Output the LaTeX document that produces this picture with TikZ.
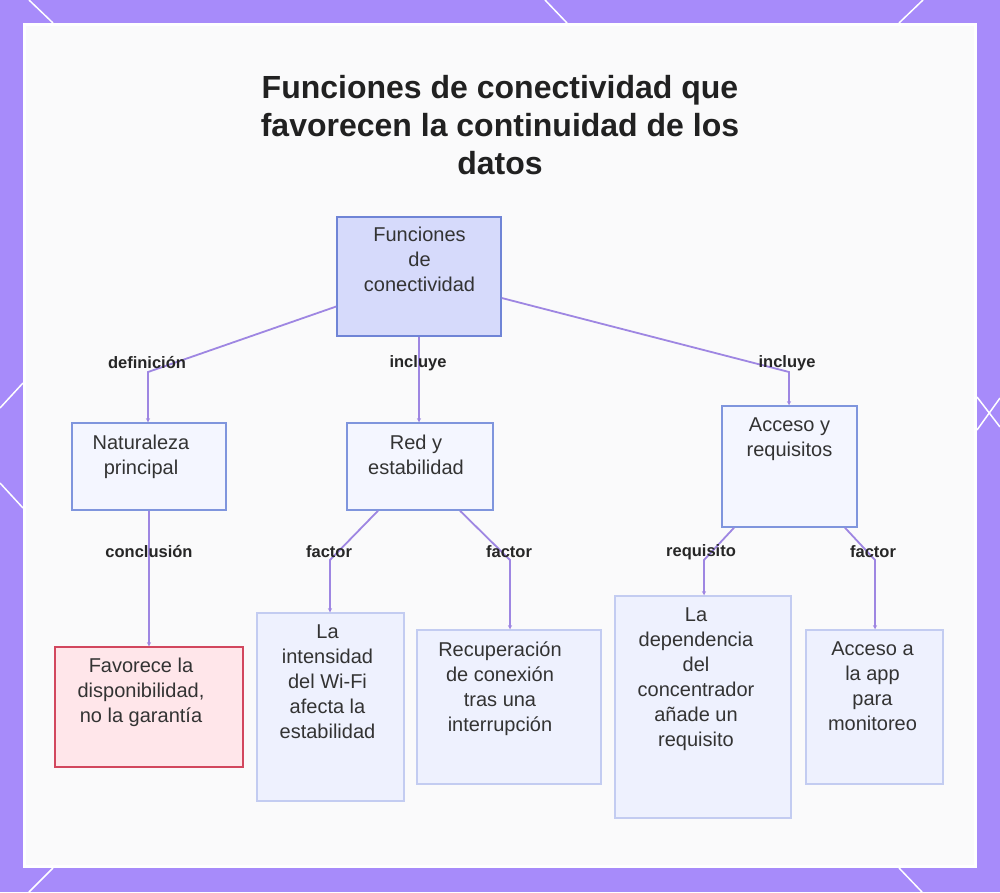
\documentclass[tikz,border=0pt]{standalone}
\usepackage{fontspec}
\setmainfont{Liberation Sans}
\usetikzlibrary{arrows.meta}
\definecolor{frame}{HTML}{A78BFA}
\definecolor{panel}{HTML}{FAFAFB}
\definecolor{linkc}{HTML}{9E86E2}
\definecolor{rootfill}{HTML}{D6DAFB}
\definecolor{rootdraw}{HTML}{6F84D6}
\definecolor{midfill}{HTML}{F4F6FF}
\definecolor{middraw}{HTML}{7F95DD}
\definecolor{leaffill}{HTML}{EEF1FE}
\definecolor{leafdraw}{HTML}{C3CCF1}
\definecolor{notefill}{HTML}{FFE6EA}
\definecolor{notedraw}{HTML}{D2475E}
\definecolor{ink}{HTML}{333333}
\begin{document}
\begin{tikzpicture}[x=1pt, y=-1pt,
    rootbox/.style={rectangle, draw=rootdraw, fill=rootfill, line width=1.5pt, inner sep=0pt},
    midbox/.style={rectangle, draw=middraw, fill=midfill, line width=1.5pt, inner sep=0pt},
    leafbox/.style={rectangle, draw=leafdraw, fill=leaffill, line width=1.5pt, inner sep=0pt},
    notebox/.style={rectangle, draw=notedraw, fill=notefill, line width=1.5pt, inner sep=0pt},
    boxtext/.style={anchor=north, align=center, inner sep=0pt, text=ink, font=\fontsize{20}{25}\selectfont, execute at begin node=\strut},
    edgelbl/.style={font=\bfseries\fontsize{16.5}{20}\selectfont, text=black!85, inner sep=0pt},
    link/.style={draw=linkc, line width=1.8pt, -{Stealth[length=4pt,width=4pt]}},
    deco/.style={draw=white, line width=1.5pt}
    ]
    % frame and panel
    \fill[frame] (0,0) rectangle (1000,892);
    \useasboundingbox (0,0) rectangle (1000,892);
    \draw[deco] (29,0) -- (53,23);
    \draw[deco] (545,0) -- (567,23);
    \draw[deco] (923,0) -- (899,23);
    \draw[deco] (0,408) -- (23,383);
    \draw[deco] (0,483) -- (23,508);
    \draw[deco] (977,430) -- (1000,398);
    \draw[deco] (977,397) -- (1000,427);
    \draw[deco] (53,868) -- (29,892);
    \draw[deco] (899,868) -- (922,892);
    \fill[panel] (23,23) rectangle (977,868);
    \draw[white, line width=3pt] (24.5,24.5) rectangle (975.5,866.5);

    % title
    \node[anchor=north, align=center, inner sep=0pt, text=black!87, font=\bfseries\fontsize{32}{38}\selectfont] (title) at (500,75)
        {Funciones de conectividad que\\favorecen la continuidad de los\\datos};

    % boxes
    \node[rootbox, minimum width=164pt, minimum height=119pt] (root) at (419,276.5) {};
    \node[midbox, minimum width=154pt, minimum height=87pt] (nat) at (149,466.5) {};
    \node[midbox, minimum width=146pt, minimum height=87pt] (red) at (420,466.5) {};
    \node[midbox, minimum width=135pt, minimum height=121pt] (acc) at (789.5,466.5) {};
    \node[notebox, minimum width=188pt, minimum height=120pt] (fav) at (149,707) {};
    \node[leafbox, minimum width=147pt, minimum height=188pt] (int) at (330.5,707) {};
    \node[leafbox, minimum width=184pt, minimum height=154pt] (rec) at (509,707) {};
    \node[leafbox, minimum width=176pt, minimum height=222pt] (dep) at (703,707) {};
    \node[leafbox, minimum width=137pt, minimum height=154pt] (app) at (874.5,707) {};

    % box texts
    \node[boxtext] (rootT) at ([xshift=0.5pt, yshift=-11pt]root.north) {Funciones\\de\\conectividad};
    \node[boxtext] (natT) at ([xshift=-8pt, yshift=-12.5pt]nat.north) {Naturaleza\\principal};
    \node[boxtext] (redT) at ([xshift=-4pt, yshift=-12.5pt]red.north) {Red y\\estabilidad};
    \node[boxtext] (accT) at ([yshift=-12pt]acc.north) {Acceso y\\requisitos};
    \node[boxtext] (favT) at ([xshift=-8pt, yshift=-12pt]fav.north) {Favorece la\\disponibilidad,\\no la garantía};
    \node[boxtext] (intT) at ([xshift=-3pt, yshift=-12pt]int.north) {La\\intensidad\\del Wi-Fi\\afecta la\\estabilidad};
    \node[boxtext] (recT) at ([xshift=-9pt, yshift=-12pt]rec.north) {Recuperación\\de conexión\\tras una\\interrupción};
    \node[boxtext] (depT) at ([xshift=-7pt, yshift=-12pt]dep.north) {La\\dependencia\\del\\concentrador\\añade un\\requisito};
    \node[boxtext] (appT) at ([xshift=-2pt, yshift=-12pt]app.north) {Acceso a\\la app\\para\\monitoreo};

    % bends
    \coordinate (k1) at (148,372);
    \coordinate (k2) at (789,372);
    \coordinate (k3) at (330,560);
    \coordinate (k4) at (510,560);
    \coordinate (k5) at (704,560);
    \coordinate (k6) at (875,560);

    % connectors
    \draw[link] ([yshift=-30pt]root.west) -- (k1) -- (k1 |- nat.north);
    \draw[link] (root.south) -- (root.south |- red.north);
    \draw[link] ([yshift=-21.5pt]root.east) -- (k2) -- (k2 |- acc.north);
    \draw[link] (nat.south) -- (nat.south |- fav.north);
    \draw[link] ([xshift=-42pt]red.south) -- (k3) -- (k3 |- int.north);
    \draw[link] ([xshift=40pt]red.south) -- (k4) -- (k4 |- rec.north);
    \draw[link] ([xshift=-55.5pt]acc.south) -- (k5) -- (k5 |- dep.north);
    \draw[link] ([xshift=55.5pt]acc.south) -- (k6) -- (k6 |- app.north);

    % connector labels
    \node[edgelbl] (l1) at (147,363) {definición};
    \node[edgelbl] (l2) at (418,363) {incluye};
    \node[edgelbl] (l3) at (787,363) {incluye};
    \node[edgelbl] (l4) at (149,552) {conclusión};
    \node[edgelbl] (l5) at (329,552) {factor};
    \node[edgelbl] (l6) at (509,552) {factor};
    \node[edgelbl] (l7) at (701,552) {requisito};
    \node[edgelbl] (l8) at (873,552) {factor};
\end{tikzpicture}
\end{document}
